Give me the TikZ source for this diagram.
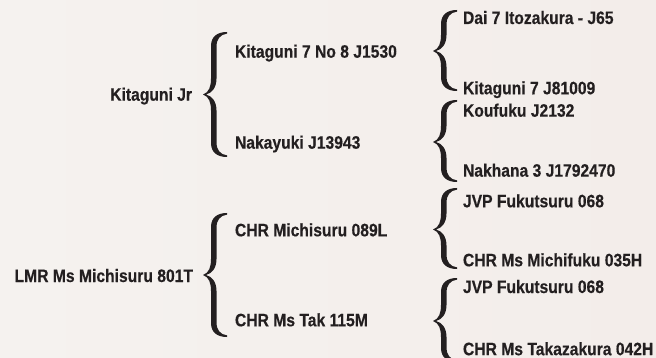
\documentclass[tikz,border=0pt]{standalone}
\usepackage{fontspec}
\setmainfont{Liberation Sans}[FakeStretch=0.87,BoldFeatures={FakeBold=0.4}]
\definecolor{bgcol}{RGB}{245,242,239}
\definecolor{bgcolb}{RGB}{243,237,234}
\definecolor{ink}{RGB}{35,31,32}
\newcommand\curlybrace[4]{%
  \begin{scope}[shift={(#1,#2)}]
    \fill[ink] (0,0)
      .. controls (6,-2) and (8,-8) .. (8,-16)
      -- (8,-#3+14)
      .. controls (8,-#3+4) and (15,-#3) .. (24,-#3)
      -- (24,-#3+1.6)
      .. controls (17,-#3+2.6) and (13.5,-#3+7) .. (13.5,-#3+15)
      -- (13.5,-16)
      .. controls (13.5,-7) and (9,-1.5) .. (3,0)
      .. controls (9,1.5) and (13.5,7) .. (13.5,16)
      -- (13.5,#4-15)
      .. controls (13.5,#4-7) and (17,#4-2.6) .. (24,#4-1.6)
      -- (24,#4)
      .. controls (15,#4) and (8,#4-4) .. (8,#4-14)
      -- (8,16)
      .. controls (8,8) and (6,2) .. (0,0) -- cycle;
  \end{scope}}
\tikzset{
  lbl/.style={inner sep=0pt, outer sep=0pt, text=ink,
    font=\fontsize{18}{20}\selectfont\bfseries},
  lvlone/.style={lbl, anchor=base east},
  lvlrest/.style={lbl, anchor=base west}
}
\begin{document}
\begin{tikzpicture}[x=1pt,y=-1pt]
\useasboundingbox (0,0) rectangle (656,358);
\shade[left color=bgcol, right color=bgcolb] (0,0) rectangle (656,358);
% level 1
\node[lvlone] (kj) at (192,100.7) {Kitaguni Jr};
\node[lvlone] (lmr) at (193,282) {LMR Ms Michisuru 801T};
% level 2
\node[lvlrest] (k7) at (235,57.7) {Kitaguni 7 No 8 J1530};
\node[lvlrest] (nk) at (235,148.7) {Nakayuki J13943};
\node[lvlrest] (chm) at (235,236.3) {CHR Michisuru 089L};
\node[lvlrest] (cht) at (235,326.3) {CHR Ms Tak 115M};
% level 3
\node[lvlrest] (dai) at (463,24) {Dai 7 Itozakura - J65};
\node[lvlrest] (k7j) at (463,94.3) {Kitaguni 7 J81009};
\node[lvlrest] (kou) at (463,116.7) {Koufuku J2132};
\node[lvlrest] (nak) at (463,176.7) {Nakhana 3 J1792470};
\node[lvlrest] (jvpa) at (463,207.3) {JVP Fukutsuru 068};
\node[lvlrest] (chmf) at (463,266.3) {CHR Ms Michifuku 035H};
\node[lvlrest] (jvpb) at (463,293) {JVP Fukutsuru 068};
\node[lvlrest] (chtk) at (463,355.2) {CHR Ms Takazakura 042H};
% braces
\curlybrace{203}{94.5}{62.5}{62.5}
\curlybrace{433}{51}{41}{40}
\curlybrace{433}{142}{42}{40}
\curlybrace{203}{275}{62}{62}
\curlybrace{433}{229.5}{41.5}{39.5}
\curlybrace{433}{321}{43}{41}
\end{tikzpicture}
\end{document}
